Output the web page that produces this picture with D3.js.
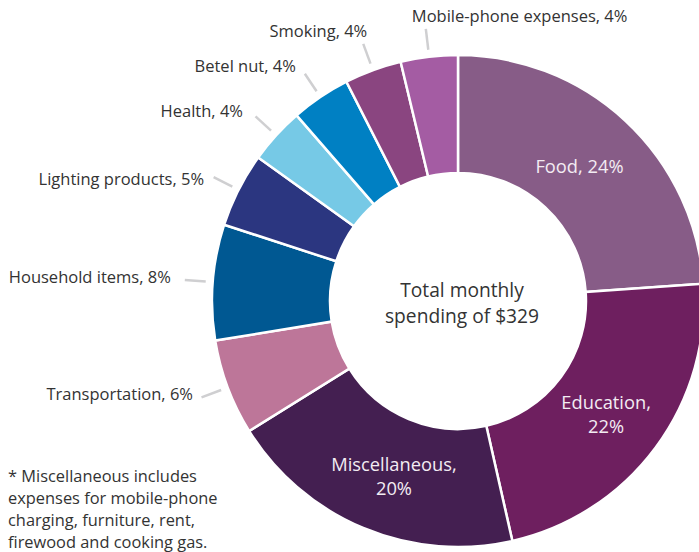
<!DOCTYPE html>
<html><head><meta charset="utf-8">
<script src="https://cdn.jsdelivr.net/npm/d3@7"></script>
<style>body{margin:0;background:#fff}svg{display:block}text{font-family:"Open Sans",sans-serif}</style>
</head><body><svg id="c" width="699" height="552"></svg>
<script>
const categories = ["Food","Education","Miscellaneous","Transportation","Household items","Lighting products","Health","Betel nut","Smoking","Mobile-phone expenses"];
const shares = [23.9,22.6,19.7,6.3,7.6,4.9,3.7,3.9,3.75,3.75];
const labelPct = ["24%","22%","20%","6%","8%","5%","4%","4%","4%","4%"];
const colors = ["#875c87","#6e1f5f","#441f51","#bd7699","#005892","#2b3680","#76c9e6","#0080c3","#8a4580","#a45ca3"];
const centerText = ["Total monthly","spending of $329"];
const footnote = ["* Miscellaneous includes","expenses for mobile-phone","charging, furniture, rent,","firewood and cooking gas."];

const svg = d3.select("#c");
const cx = 458, cy = 301, R = 246, r0 = 128;
const g = svg.append("g").attr("transform",`translate(${cx},${cy})`);
const data = categories.map((c,i)=>({name:c,value:shares[i],pct:labelPct[i],color:colors[i]}));
const pie = d3.pie().value(d=>d.value).sort(null);
const arcs = pie(data);
const arc = d3.arc().innerRadius(r0).outerRadius(R);
g.selectAll("path.s").data(arcs).join("path").attr("class","s")
  .attr("d",arc).attr("fill",d=>d.data.color).attr("stroke","#fff").attr("stroke-width",2.5);

// inside labels
const insideLayout = {
  "Food":{dx:-6,dy:3,two:false},
  "Education":{dx:-2,dy:3,two:true},
  "Miscellaneous":{dx:8,dy:3,two:true}
};
const labArc = d3.arc().innerRadius(187).outerRadius(187);
arcs.filter(d=>insideLayout[d.data.name]).forEach(d=>{
  const L = insideLayout[d.data.name];
  let [x,y] = labArc.centroid(d);
  x += L.dx; y += L.dy;
  const t = g.append("text").attr("text-anchor","middle").attr("fill","#f3ecf3").attr("font-size",18.3);
  if(L.two){
    t.append("tspan").attr("x",x).attr("y",y-12+6).text(d.data.name+",");
    t.append("tspan").attr("x",x).attr("y",y+12+6).text(d.data.pct);
  } else {
    t.attr("x",x).attr("y",y+6).text(d.data.name+", "+d.data.pct);
  }
});

// outside labels with radial leader lines
const layout = {
  "Transportation":{anchor:"end",dx:-8.5,dy:-3},
  "Household items":{anchor:"end",dx:-14,dy:-3},
  "Lighting products":{anchor:"end",dx:-9.5,dy:2.5},
  "Health":{anchor:"end",dx:-12.5,dy:-5},
  "Betel nut":{anchor:"end",dx:-9,dy:-7.5},
  "Smoking":{anchor:"end",dx:4,dy:-12.5},
  "Mobile-phone expenses":{anchor:"start",dx:-14,dy:-13}
};
arcs.filter(d=>layout[d.data.name]).forEach(d=>{
  const a = (d.startAngle+d.endAngle)/2;
  const p1 = [Math.sin(a)*253, -Math.cos(a)*253];
  const p2 = [Math.sin(a)*274, -Math.cos(a)*274];
  g.append("line").attr("x1",p1[0]).attr("y1",p1[1]).attr("x2",p2[0]).attr("y2",p2[1])
    .attr("stroke","#cfcfd1").attr("stroke-width",2.5);
  const L = layout[d.data.name];
  g.append("text").attr("x",p2[0]+L.dx).attr("y",p2[1]+L.dy).attr("dy","0.35em")
    .attr("text-anchor",L.anchor).attr("fill","#333").attr("font-size",16.5)
    .text(d.data.name+", "+d.data.pct);
});

// center text
const ct = svg.append("text").attr("text-anchor","middle").attr("fill","#333").attr("font-size",19.2);
centerText.forEach((s,i)=>ct.append("tspan").attr("x",462).attr("y",297+i*25.5).text(s));

// footnote
const ft = svg.append("text").attr("fill","#333").attr("font-size",16.4);
footnote.forEach((s,i)=>ft.append("tspan").attr("x",8).attr("y",482+i*22).text(s));
</script></body></html>
